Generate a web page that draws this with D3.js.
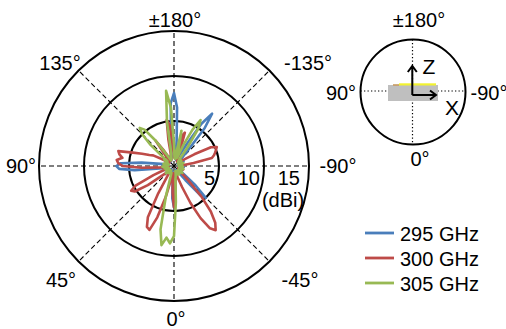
<!DOCTYPE html>
<html><head><meta charset="utf-8">
<script src="https://cdn.jsdelivr.net/npm/d3@7"></script>
<style>
html,body{margin:0;padding:0;background:#fff;}
svg{display:block;font-family:"Liberation Sans",Arial,sans-serif;}
</style></head>
<body><svg id="c" width="506" height="329"></svg>
<script>
// ---- data ----
const seriesNames = ["295 GHz", "300 GHz", "305 GHz"];
const stepDeg = 3; // samples from -180 to 177 deg
const gain295 = [
 8.1,6.5,2.8,1.2,0.8,1.0,0.7,0.9,1.1,1.4,
 2.8,5.6,7.2,5.4,2.2,1.0,0.6,0.8,0.5,0.7,
 0.9,1.2,0.8,0.6,0.9,0.7,0.5,0.8,1.0,0.6,
 0.5,0.8,1.1,0.7,0.6,0.9,0.8,0.5,0.7,1.0,
 0.8,0.6,0.9,1.3,3.2,5.0,4.4,2.0,0.9,0.6,
 0.8,0.5,0.7,1.0,0.6,0.8,0.9,0.7,1.2,2.4,
 4.6,3.6,1.5,0.9,0.7,1.0,0.8,0.6,0.9,0.7,
 0.5,0.8,0.6,0.9,1.1,0.7,0.5,0.8,1.0,0.7,
 0.6,0.9,0.8,1.2,0.9,0.7,1.0,2.0,4.4,6.1,
 6.4,5.9,3.6,1.5,0.9,0.7,1.0,0.8,0.6,0.9,
 0.7,1.0,0.8,0.6,0.9,1.1,0.7,0.8,1.0,0.6,
 0.9,0.7,1.0,0.8,1.2,1.0,1.4,1.8,3.2,7.0];
const gain300 = [
 1.2,0.9,1.0,1.3,1.6,3.5,3.9,2.0,1.0,0.7,
 0.9,0.6,0.8,1.0,0.7,0.9,0.6,0.8,1.0,1.3,
 2.6,4.6,5.2,5.0,4.8,4.6,4.3,2.2,1.1,0.8,
 0.6,0.9,0.7,1.0,0.8,0.6,0.9,1.1,0.7,0.5,
 0.8,0.6,0.9,0.7,1.0,2.2,4.5,6.5,7.8,8.5,
 8.0,6.5,4.5,2.5,1.4,0.9,0.7,1.0,1.4,3.0,
 4.6,3.0,1.2,0.8,1.5,3.6,6.0,7.6,7.4,6.4,
 3.5,1.4,0.8,0.6,0.9,0.7,1.0,1.6,3.6,5.2,
 5.5,4.8,2.5,1.0,0.7,0.9,0.6,0.8,1.5,3.6,
 5.7,6.2,6.4,5.8,6.2,6.4,4.8,3.8,3.0,2.6,
 1.5,0.8,0.6,0.9,0.7,1.0,0.8,1.5,3.5,2.0,
 0.9,0.7,1.0,0.8,1.0,1.4,3.0,5.2,4.5,2.0];
const gain305 = [
 2.5,1.0,0.8,1.2,4.0,2.0,0.9,1.0,2.5,4.5,
 5.9,5.0,2.5,1.0,0.7,0.9,0.6,0.8,1.0,0.7,
 0.5,0.8,0.6,0.9,1.1,0.7,0.6,0.9,0.8,0.5,
 0.7,1.0,0.8,0.6,0.9,0.7,1.1,0.8,0.6,0.9,
 0.7,1.0,0.8,1.2,0.9,0.7,1.0,0.8,0.6,0.9,
 1.1,0.8,0.7,1.0,0.8,0.6,0.9,1.2,1.5,4.0,
 7.8,8.6,8.0,8.9,7.2,3.5,1.2,0.8,1.0,0.7,
 0.9,0.6,0.8,1.0,0.7,0.9,1.2,0.8,0.6,0.9,
 0.7,1.0,0.8,0.6,0.9,1.1,0.8,0.7,1.0,1.3,
 1.0,0.8,0.7,0.9,1.2,0.8,0.6,0.9,1.0,0.8,
 1.0,1.3,0.9,1.5,3.5,5.0,5.7,5.2,3.5,1.5,
 0.9,0.7,1.0,0.8,1.0,1.2,1.5,5.0,8.4,6.5];
const radialTicks = [5, 10, 15];
const radialTickLabels = ["5", "10", "15"];
const spokeAngles = [0, 45, 90, 135, 180, -135, -90, -45];
const angleLabels = ["0°", "45°", "90°", "135°", "±180°", "-135°", "-90°", "-45°"];
const insetLabels = ["±180°", "90°", "-90°", "0°"];

// ---- styles / layout ----
const colors = ["#4a7ebb", "#be4b48", "#98b954"];
const cx = 174, cy = 166;
const svg = d3.select("#c");
const r = d3.scaleLinear().domain([0, 15]).range([0, 135]).clamp(true);
const angles = d3.range(-180, 180, stepDeg);
const rad = a => a * Math.PI / 180;
// 0° at bottom, 90° to the left, ±180° at top
const px = (a, rr) => cx - rr * Math.sin(rad(a));
const py = (a, rr) => cy + rr * Math.cos(rad(a));

const g = svg.append("g");
g.selectAll("line.spoke").data(spokeAngles).join("line")
  .attr("x1", cx).attr("y1", cy)
  .attr("x2", a => px(a, r(15))).attr("y2", a => py(a, r(15)))
  .attr("stroke", "#000").attr("stroke-width", 1.1).attr("stroke-dasharray", "5,3");
g.selectAll("circle.ring").data(radialTicks).join("circle")
  .attr("cx", cx).attr("cy", cy).attr("r", d => r(d))
  .attr("fill", "none").attr("stroke", "#000").attr("stroke-width", 2);

const line = d3.lineRadial()
  .angle(d => Math.PI + rad(d[0]))
  .radius(d => r(d[1]))
  .curve(d3.curveLinearClosed);
const series = [gain295, gain300, gain305];
const pg = svg.append("g").attr("transform", `translate(${cx},${cy})`);
series.forEach((s, i) => {
  pg.append("path")
    .attr("d", line(angles.map((a, j) => [a, s[j]])))
    .attr("fill", "none").attr("stroke", colors[i])
    .attr("stroke-width", 2.6).attr("stroke-linejoin", "round");
});

const fs = 20;
const tickRight = [215, 260, 300];
svg.selectAll("text.rt").data(radialTickLabels).join("text")
  .attr("x", (d, i) => tickRight[i]).attr("y", 185)
  .attr("text-anchor", "end").attr("font-size", fs).text(d => d);
svg.append("text").attr("x", 283).attr("y", 207).attr("text-anchor", "middle")
  .attr("font-size", fs).text("(dBi)");

const labelPos = [[176, 326], [61, 287], [21, 173], [60, 70], [175, 27], [308, 70], [338, 173], [300, 287]];
svg.selectAll("text.al").data(angleLabels).join("text")
  .attr("x", (d, i) => labelPos[i][0]).attr("y", (d, i) => labelPos[i][1])
  .attr("text-anchor", "middle").attr("font-size", fs).text(d => d);

// inset
const icx = 413, icy = 92, ir = 52.5;
const ins = svg.append("g");
ins.append("line").attr("x1", icx - ir).attr("x2", icx + ir).attr("y1", icy - 1).attr("y2", icy - 1)
  .attr("stroke", "#000").attr("stroke-width", 1.2).attr("stroke-dasharray", "1.3,2.2");
ins.append("line").attr("x1", icx - 0.5).attr("x2", icx - 0.5).attr("y1", icy - ir).attr("y2", icy + ir)
  .attr("stroke", "#000").attr("stroke-width", 1.2).attr("stroke-dasharray", "1.3,2.2");
ins.append("circle").attr("cx", icx).attr("cy", icy).attr("r", ir)
  .attr("fill", "none").attr("stroke", "#000").attr("stroke-width", 2);
ins.append("rect").attr("x", 388).attr("y", 85).attr("width", 50).attr("height", 16).attr("fill", "#bfbfbf");
ins.append("rect").attr("x", 399).attr("y", 83.3).attr("width", 37).attr("height", 2.2).attr("fill", "#f2f230");
ins.append("rect").attr("x", 393).attr("y", 84.2).attr("width", 6).attr("height", 1.6).attr("fill", "#c89a60");
const ox = 412.3, oy = 95;
ins.append("path").attr("d", `M${ox},${oy}V66M${ox - 4.5},72L${ox},66L${ox + 4.5},72`)
  .attr("fill", "none").attr("stroke", "#000").attr("stroke-width", 2);
ins.append("path").attr("d", `M${ox},${oy}H436M430,90.5L436,${oy}L430,99.5`)
  .attr("fill", "none").attr("stroke", "#000").attr("stroke-width", 2);
ins.append("text").attr("x", 429).attr("y", 74).attr("text-anchor", "middle").attr("font-size", 21).text("Z");
ins.append("text").attr("x", 452).attr("y", 115).attr("text-anchor", "middle").attr("font-size", 21).text("X");
const insetPos = [[419, 27], [341, 100], [489, 100], [420, 166]];
ins.selectAll("text.il").data(insetLabels).join("text")
  .attr("x", (d, i) => insetPos[i][0]).attr("y", (d, i) => insetPos[i][1])
  .attr("text-anchor", "middle").attr("font-size", fs).text(d => d);

// legend
const lg = svg.append("g");
seriesNames.forEach((n, i) => {
  const y = 233 + i * 25;
  lg.append("line").attr("x1", 365).attr("x2", 394).attr("y1", y).attr("y2", y)
    .attr("stroke", colors[i]).attr("stroke-width", 2.8);
  lg.append("text").attr("x", 400).attr("y", y + 8).attr("font-size", fs).text(n);
});
</script></body></html>
